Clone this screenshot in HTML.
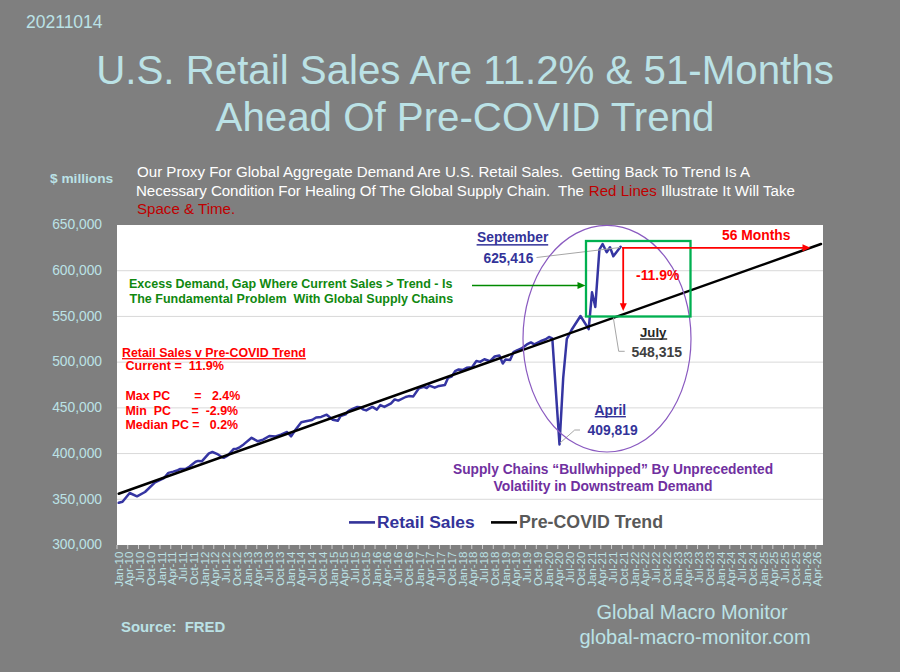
<!DOCTYPE html>
<html><head><meta charset="utf-8"><style>
html,body{margin:0;padding:0;background:#7F7F7F;}
body{width:900px;height:672px;overflow:hidden;position:relative;}
svg{position:absolute;left:0;top:0;}
text{font-family:"Liberation Sans",sans-serif;}
</style></head><body>
<svg width="900" height="672" viewBox="0 0 900 672">
<rect x="0" y="0" width="900" height="672" fill="#7F7F7F"/>

<text id="date" x="26" y="27.8" font-size="17.5" fill="#BBE2E6">20211014</text>
<text id="t1" x="465" y="83.6" font-size="40.25" fill="#BBE2E6" text-anchor="middle">U.S. Retail Sales Are 11.2% &amp; 51-Months</text>
<text id="t2" x="465" y="130.7" font-size="40.25" fill="#BBE2E6" text-anchor="middle">Ahead Of Pre-COVID Trend</text>
<text id="ymil" x="50" y="183.3" font-size="13.7" font-weight="bold" fill="#BBE2E6">$ millions</text>
<text id="p1" x="137" y="177.3" font-size="15.1" fill="#FFFFFF">Our Proxy For Global Aggregate Demand Are U.S. Retail Sales. &#160;Getting Back To Trend Is A</text>
<text id="p2" x="136" y="195.6" font-size="15.1" fill="#FFFFFF" textLength="448" lengthAdjust="spacing" xml:space="preserve">Necessary Condition For Healing Of The Global Supply Chain.  The</text>
<text id="p2b" x="588.8" y="195.6" font-size="15.1" fill="#C00000">Red Lines</text>
<text id="p2c" x="661" y="195.6" font-size="15.1" fill="#FFFFFF">Illustrate It Will Take</text>
<text id="p3" x="137" y="213.8" font-size="15.1" fill="#C00000">Space &amp; Time.</text>
<rect x="117.0" y="225.0" width="706.0" height="320.0" fill="#FFFFFF"/>
<line x1="117.0" y1="270.71" x2="823.0" y2="270.71" stroke="#D9D9D9" stroke-width="1"/>
<line x1="117.0" y1="316.43" x2="823.0" y2="316.43" stroke="#D9D9D9" stroke-width="1"/>
<line x1="117.0" y1="362.14" x2="823.0" y2="362.14" stroke="#D9D9D9" stroke-width="1"/>
<line x1="117.0" y1="407.86" x2="823.0" y2="407.86" stroke="#D9D9D9" stroke-width="1"/>
<line x1="117.0" y1="453.57" x2="823.0" y2="453.57" stroke="#D9D9D9" stroke-width="1"/>
<line x1="117.0" y1="499.29" x2="823.0" y2="499.29" stroke="#D9D9D9" stroke-width="1"/>
<text x="102" y="229.3" font-size="13.8" fill="#BBE2E6" text-anchor="end">650,000</text>
<text x="102" y="275.0" font-size="13.8" fill="#BBE2E6" text-anchor="end">600,000</text>
<text x="102" y="320.7" font-size="13.8" fill="#BBE2E6" text-anchor="end">550,000</text>
<text x="102" y="366.4" font-size="13.8" fill="#BBE2E6" text-anchor="end">500,000</text>
<text x="102" y="412.2" font-size="13.8" fill="#BBE2E6" text-anchor="end">450,000</text>
<text x="102" y="457.9" font-size="13.8" fill="#BBE2E6" text-anchor="end">400,000</text>
<text x="102" y="503.6" font-size="13.8" fill="#BBE2E6" text-anchor="end">350,000</text>
<text x="102" y="549.3" font-size="13.8" fill="#BBE2E6" text-anchor="end">300,000</text>
<line x1="117.00" y1="545.0" x2="117.00" y2="549.0" stroke="#D9D9D9" stroke-width="0.9"/>
<text font-size="11.5" fill="#BBE2E6" text-anchor="end" transform="translate(122.50,551.6) rotate(-90)">Jan-10</text>
<line x1="127.75" y1="545.0" x2="127.75" y2="549.0" stroke="#D9D9D9" stroke-width="0.9"/>
<text font-size="11.5" fill="#BBE2E6" text-anchor="end" transform="translate(133.25,551.6) rotate(-90)">Apr-10</text>
<line x1="138.50" y1="545.0" x2="138.50" y2="549.0" stroke="#D9D9D9" stroke-width="0.9"/>
<text font-size="11.5" fill="#BBE2E6" text-anchor="end" transform="translate(144.00,551.6) rotate(-90)">Jul-10</text>
<line x1="149.25" y1="545.0" x2="149.25" y2="549.0" stroke="#D9D9D9" stroke-width="0.9"/>
<text font-size="11.5" fill="#BBE2E6" text-anchor="end" transform="translate(154.75,551.6) rotate(-90)">Oct-10</text>
<line x1="160.01" y1="545.0" x2="160.01" y2="549.0" stroke="#D9D9D9" stroke-width="0.9"/>
<text font-size="11.5" fill="#BBE2E6" text-anchor="end" transform="translate(165.51,551.6) rotate(-90)">Jan-11</text>
<line x1="170.76" y1="545.0" x2="170.76" y2="549.0" stroke="#D9D9D9" stroke-width="0.9"/>
<text font-size="11.5" fill="#BBE2E6" text-anchor="end" transform="translate(176.26,551.6) rotate(-90)">Apr-11</text>
<line x1="181.51" y1="545.0" x2="181.51" y2="549.0" stroke="#D9D9D9" stroke-width="0.9"/>
<text font-size="11.5" fill="#BBE2E6" text-anchor="end" transform="translate(187.01,551.6) rotate(-90)">Jul-11</text>
<line x1="192.26" y1="545.0" x2="192.26" y2="549.0" stroke="#D9D9D9" stroke-width="0.9"/>
<text font-size="11.5" fill="#BBE2E6" text-anchor="end" transform="translate(197.76,551.6) rotate(-90)">Oct-11</text>
<line x1="203.01" y1="545.0" x2="203.01" y2="549.0" stroke="#D9D9D9" stroke-width="0.9"/>
<text font-size="11.5" fill="#BBE2E6" text-anchor="end" transform="translate(208.51,551.6) rotate(-90)">Jan-12</text>
<line x1="213.76" y1="545.0" x2="213.76" y2="549.0" stroke="#D9D9D9" stroke-width="0.9"/>
<text font-size="11.5" fill="#BBE2E6" text-anchor="end" transform="translate(219.26,551.6) rotate(-90)">Apr-12</text>
<line x1="224.51" y1="545.0" x2="224.51" y2="549.0" stroke="#D9D9D9" stroke-width="0.9"/>
<text font-size="11.5" fill="#BBE2E6" text-anchor="end" transform="translate(230.01,551.6) rotate(-90)">Jul-12</text>
<line x1="235.26" y1="545.0" x2="235.26" y2="549.0" stroke="#D9D9D9" stroke-width="0.9"/>
<text font-size="11.5" fill="#BBE2E6" text-anchor="end" transform="translate(240.76,551.6) rotate(-90)">Oct-12</text>
<line x1="246.02" y1="545.0" x2="246.02" y2="549.0" stroke="#D9D9D9" stroke-width="0.9"/>
<text font-size="11.5" fill="#BBE2E6" text-anchor="end" transform="translate(251.52,551.6) rotate(-90)">Jan-13</text>
<line x1="256.77" y1="545.0" x2="256.77" y2="549.0" stroke="#D9D9D9" stroke-width="0.9"/>
<text font-size="11.5" fill="#BBE2E6" text-anchor="end" transform="translate(262.27,551.6) rotate(-90)">Apr-13</text>
<line x1="267.52" y1="545.0" x2="267.52" y2="549.0" stroke="#D9D9D9" stroke-width="0.9"/>
<text font-size="11.5" fill="#BBE2E6" text-anchor="end" transform="translate(273.02,551.6) rotate(-90)">Jul-13</text>
<line x1="278.27" y1="545.0" x2="278.27" y2="549.0" stroke="#D9D9D9" stroke-width="0.9"/>
<text font-size="11.5" fill="#BBE2E6" text-anchor="end" transform="translate(283.77,551.6) rotate(-90)">Oct-13</text>
<line x1="289.02" y1="545.0" x2="289.02" y2="549.0" stroke="#D9D9D9" stroke-width="0.9"/>
<text font-size="11.5" fill="#BBE2E6" text-anchor="end" transform="translate(294.52,551.6) rotate(-90)">Jan-14</text>
<line x1="299.77" y1="545.0" x2="299.77" y2="549.0" stroke="#D9D9D9" stroke-width="0.9"/>
<text font-size="11.5" fill="#BBE2E6" text-anchor="end" transform="translate(305.27,551.6) rotate(-90)">Apr-14</text>
<line x1="310.52" y1="545.0" x2="310.52" y2="549.0" stroke="#D9D9D9" stroke-width="0.9"/>
<text font-size="11.5" fill="#BBE2E6" text-anchor="end" transform="translate(316.02,551.6) rotate(-90)">Jul-14</text>
<line x1="321.27" y1="545.0" x2="321.27" y2="549.0" stroke="#D9D9D9" stroke-width="0.9"/>
<text font-size="11.5" fill="#BBE2E6" text-anchor="end" transform="translate(326.77,551.6) rotate(-90)">Oct-14</text>
<line x1="332.03" y1="545.0" x2="332.03" y2="549.0" stroke="#D9D9D9" stroke-width="0.9"/>
<text font-size="11.5" fill="#BBE2E6" text-anchor="end" transform="translate(337.53,551.6) rotate(-90)">Jan-15</text>
<line x1="342.78" y1="545.0" x2="342.78" y2="549.0" stroke="#D9D9D9" stroke-width="0.9"/>
<text font-size="11.5" fill="#BBE2E6" text-anchor="end" transform="translate(348.28,551.6) rotate(-90)">Apr-15</text>
<line x1="353.53" y1="545.0" x2="353.53" y2="549.0" stroke="#D9D9D9" stroke-width="0.9"/>
<text font-size="11.5" fill="#BBE2E6" text-anchor="end" transform="translate(359.03,551.6) rotate(-90)">Jul-15</text>
<line x1="364.28" y1="545.0" x2="364.28" y2="549.0" stroke="#D9D9D9" stroke-width="0.9"/>
<text font-size="11.5" fill="#BBE2E6" text-anchor="end" transform="translate(369.78,551.6) rotate(-90)">Oct-15</text>
<line x1="375.03" y1="545.0" x2="375.03" y2="549.0" stroke="#D9D9D9" stroke-width="0.9"/>
<text font-size="11.5" fill="#BBE2E6" text-anchor="end" transform="translate(380.53,551.6) rotate(-90)">Jan-16</text>
<line x1="385.78" y1="545.0" x2="385.78" y2="549.0" stroke="#D9D9D9" stroke-width="0.9"/>
<text font-size="11.5" fill="#BBE2E6" text-anchor="end" transform="translate(391.28,551.6) rotate(-90)">Apr-16</text>
<line x1="396.53" y1="545.0" x2="396.53" y2="549.0" stroke="#D9D9D9" stroke-width="0.9"/>
<text font-size="11.5" fill="#BBE2E6" text-anchor="end" transform="translate(402.03,551.6) rotate(-90)">Jul-16</text>
<line x1="407.28" y1="545.0" x2="407.28" y2="549.0" stroke="#D9D9D9" stroke-width="0.9"/>
<text font-size="11.5" fill="#BBE2E6" text-anchor="end" transform="translate(412.78,551.6) rotate(-90)">Oct-16</text>
<line x1="418.04" y1="545.0" x2="418.04" y2="549.0" stroke="#D9D9D9" stroke-width="0.9"/>
<text font-size="11.5" fill="#BBE2E6" text-anchor="end" transform="translate(423.54,551.6) rotate(-90)">Jan-17</text>
<line x1="428.79" y1="545.0" x2="428.79" y2="549.0" stroke="#D9D9D9" stroke-width="0.9"/>
<text font-size="11.5" fill="#BBE2E6" text-anchor="end" transform="translate(434.29,551.6) rotate(-90)">Apr-17</text>
<line x1="439.54" y1="545.0" x2="439.54" y2="549.0" stroke="#D9D9D9" stroke-width="0.9"/>
<text font-size="11.5" fill="#BBE2E6" text-anchor="end" transform="translate(445.04,551.6) rotate(-90)">Jul-17</text>
<line x1="450.29" y1="545.0" x2="450.29" y2="549.0" stroke="#D9D9D9" stroke-width="0.9"/>
<text font-size="11.5" fill="#BBE2E6" text-anchor="end" transform="translate(455.79,551.6) rotate(-90)">Oct-17</text>
<line x1="461.04" y1="545.0" x2="461.04" y2="549.0" stroke="#D9D9D9" stroke-width="0.9"/>
<text font-size="11.5" fill="#BBE2E6" text-anchor="end" transform="translate(466.54,551.6) rotate(-90)">Jan-18</text>
<line x1="471.79" y1="545.0" x2="471.79" y2="549.0" stroke="#D9D9D9" stroke-width="0.9"/>
<text font-size="11.5" fill="#BBE2E6" text-anchor="end" transform="translate(477.29,551.6) rotate(-90)">Apr-18</text>
<line x1="482.54" y1="545.0" x2="482.54" y2="549.0" stroke="#D9D9D9" stroke-width="0.9"/>
<text font-size="11.5" fill="#BBE2E6" text-anchor="end" transform="translate(488.04,551.6) rotate(-90)">Jul-18</text>
<line x1="493.29" y1="545.0" x2="493.29" y2="549.0" stroke="#D9D9D9" stroke-width="0.9"/>
<text font-size="11.5" fill="#BBE2E6" text-anchor="end" transform="translate(498.79,551.6) rotate(-90)">Oct-18</text>
<line x1="504.05" y1="545.0" x2="504.05" y2="549.0" stroke="#D9D9D9" stroke-width="0.9"/>
<text font-size="11.5" fill="#BBE2E6" text-anchor="end" transform="translate(509.55,551.6) rotate(-90)">Jan-19</text>
<line x1="514.80" y1="545.0" x2="514.80" y2="549.0" stroke="#D9D9D9" stroke-width="0.9"/>
<text font-size="11.5" fill="#BBE2E6" text-anchor="end" transform="translate(520.30,551.6) rotate(-90)">Apr-19</text>
<line x1="525.55" y1="545.0" x2="525.55" y2="549.0" stroke="#D9D9D9" stroke-width="0.9"/>
<text font-size="11.5" fill="#BBE2E6" text-anchor="end" transform="translate(531.05,551.6) rotate(-90)">Jul-19</text>
<line x1="536.30" y1="545.0" x2="536.30" y2="549.0" stroke="#D9D9D9" stroke-width="0.9"/>
<text font-size="11.5" fill="#BBE2E6" text-anchor="end" transform="translate(541.80,551.6) rotate(-90)">Oct-19</text>
<line x1="547.05" y1="545.0" x2="547.05" y2="549.0" stroke="#D9D9D9" stroke-width="0.9"/>
<text font-size="11.5" fill="#BBE2E6" text-anchor="end" transform="translate(552.55,551.6) rotate(-90)">Jan-20</text>
<line x1="557.80" y1="545.0" x2="557.80" y2="549.0" stroke="#D9D9D9" stroke-width="0.9"/>
<text font-size="11.5" fill="#BBE2E6" text-anchor="end" transform="translate(563.30,551.6) rotate(-90)">Apr-20</text>
<line x1="568.55" y1="545.0" x2="568.55" y2="549.0" stroke="#D9D9D9" stroke-width="0.9"/>
<text font-size="11.5" fill="#BBE2E6" text-anchor="end" transform="translate(574.05,551.6) rotate(-90)">Jul-20</text>
<line x1="579.30" y1="545.0" x2="579.30" y2="549.0" stroke="#D9D9D9" stroke-width="0.9"/>
<text font-size="11.5" fill="#BBE2E6" text-anchor="end" transform="translate(584.80,551.6) rotate(-90)">Oct-20</text>
<line x1="590.06" y1="545.0" x2="590.06" y2="549.0" stroke="#D9D9D9" stroke-width="0.9"/>
<text font-size="11.5" fill="#BBE2E6" text-anchor="end" transform="translate(595.56,551.6) rotate(-90)">Jan-21</text>
<line x1="600.81" y1="545.0" x2="600.81" y2="549.0" stroke="#D9D9D9" stroke-width="0.9"/>
<text font-size="11.5" fill="#BBE2E6" text-anchor="end" transform="translate(606.31,551.6) rotate(-90)">Apr-21</text>
<line x1="611.56" y1="545.0" x2="611.56" y2="549.0" stroke="#D9D9D9" stroke-width="0.9"/>
<text font-size="11.5" fill="#BBE2E6" text-anchor="end" transform="translate(617.06,551.6) rotate(-90)">Jul-21</text>
<line x1="622.31" y1="545.0" x2="622.31" y2="549.0" stroke="#D9D9D9" stroke-width="0.9"/>
<text font-size="11.5" fill="#BBE2E6" text-anchor="end" transform="translate(627.81,551.6) rotate(-90)">Oct-21</text>
<line x1="633.06" y1="545.0" x2="633.06" y2="549.0" stroke="#D9D9D9" stroke-width="0.9"/>
<text font-size="11.5" fill="#BBE2E6" text-anchor="end" transform="translate(638.56,551.6) rotate(-90)">Jan-22</text>
<line x1="643.81" y1="545.0" x2="643.81" y2="549.0" stroke="#D9D9D9" stroke-width="0.9"/>
<text font-size="11.5" fill="#BBE2E6" text-anchor="end" transform="translate(649.31,551.6) rotate(-90)">Apr-22</text>
<line x1="654.56" y1="545.0" x2="654.56" y2="549.0" stroke="#D9D9D9" stroke-width="0.9"/>
<text font-size="11.5" fill="#BBE2E6" text-anchor="end" transform="translate(660.06,551.6) rotate(-90)">Jul-22</text>
<line x1="665.31" y1="545.0" x2="665.31" y2="549.0" stroke="#D9D9D9" stroke-width="0.9"/>
<text font-size="11.5" fill="#BBE2E6" text-anchor="end" transform="translate(670.81,551.6) rotate(-90)">Oct-22</text>
<line x1="676.07" y1="545.0" x2="676.07" y2="549.0" stroke="#D9D9D9" stroke-width="0.9"/>
<text font-size="11.5" fill="#BBE2E6" text-anchor="end" transform="translate(681.57,551.6) rotate(-90)">Jan-23</text>
<line x1="686.82" y1="545.0" x2="686.82" y2="549.0" stroke="#D9D9D9" stroke-width="0.9"/>
<text font-size="11.5" fill="#BBE2E6" text-anchor="end" transform="translate(692.32,551.6) rotate(-90)">Apr-23</text>
<line x1="697.57" y1="545.0" x2="697.57" y2="549.0" stroke="#D9D9D9" stroke-width="0.9"/>
<text font-size="11.5" fill="#BBE2E6" text-anchor="end" transform="translate(703.07,551.6) rotate(-90)">Jul-23</text>
<line x1="708.32" y1="545.0" x2="708.32" y2="549.0" stroke="#D9D9D9" stroke-width="0.9"/>
<text font-size="11.5" fill="#BBE2E6" text-anchor="end" transform="translate(713.82,551.6) rotate(-90)">Oct-23</text>
<line x1="719.07" y1="545.0" x2="719.07" y2="549.0" stroke="#D9D9D9" stroke-width="0.9"/>
<text font-size="11.5" fill="#BBE2E6" text-anchor="end" transform="translate(724.57,551.6) rotate(-90)">Jan-24</text>
<line x1="729.82" y1="545.0" x2="729.82" y2="549.0" stroke="#D9D9D9" stroke-width="0.9"/>
<text font-size="11.5" fill="#BBE2E6" text-anchor="end" transform="translate(735.32,551.6) rotate(-90)">Apr-24</text>
<line x1="740.57" y1="545.0" x2="740.57" y2="549.0" stroke="#D9D9D9" stroke-width="0.9"/>
<text font-size="11.5" fill="#BBE2E6" text-anchor="end" transform="translate(746.07,551.6) rotate(-90)">Jul-24</text>
<line x1="751.32" y1="545.0" x2="751.32" y2="549.0" stroke="#D9D9D9" stroke-width="0.9"/>
<text font-size="11.5" fill="#BBE2E6" text-anchor="end" transform="translate(756.82,551.6) rotate(-90)">Oct-24</text>
<line x1="762.08" y1="545.0" x2="762.08" y2="549.0" stroke="#D9D9D9" stroke-width="0.9"/>
<text font-size="11.5" fill="#BBE2E6" text-anchor="end" transform="translate(767.58,551.6) rotate(-90)">Jan-25</text>
<line x1="772.83" y1="545.0" x2="772.83" y2="549.0" stroke="#D9D9D9" stroke-width="0.9"/>
<text font-size="11.5" fill="#BBE2E6" text-anchor="end" transform="translate(778.33,551.6) rotate(-90)">Apr-25</text>
<line x1="783.58" y1="545.0" x2="783.58" y2="549.0" stroke="#D9D9D9" stroke-width="0.9"/>
<text font-size="11.5" fill="#BBE2E6" text-anchor="end" transform="translate(789.08,551.6) rotate(-90)">Jul-25</text>
<line x1="794.33" y1="545.0" x2="794.33" y2="549.0" stroke="#D9D9D9" stroke-width="0.9"/>
<text font-size="11.5" fill="#BBE2E6" text-anchor="end" transform="translate(799.83,551.6) rotate(-90)">Oct-25</text>
<line x1="805.08" y1="545.0" x2="805.08" y2="549.0" stroke="#D9D9D9" stroke-width="0.9"/>
<text font-size="11.5" fill="#BBE2E6" text-anchor="end" transform="translate(810.58,551.6) rotate(-90)">Jan-26</text>
<line x1="815.83" y1="545.0" x2="815.83" y2="549.0" stroke="#D9D9D9" stroke-width="0.9"/>
<text font-size="11.5" fill="#BBE2E6" text-anchor="end" transform="translate(821.33,551.6) rotate(-90)">Apr-26</text>
<polyline points="118.7,502.8 122.5,501.7 129.7,493.0 137.0,496.3 145.0,492.0 155.0,482.3 164.0,478.0 168.4,472.9 173.3,471.6 177.8,470.2 180.4,468.9 185.8,468.9 189.3,466.7 195.6,461.8 198.2,460.9 201.8,461.3 208.9,453.3 212.4,452.0 216.9,453.8 222.2,457.3 224.0,457.8 227.6,455.6 233.8,448.9 236.4,448.9 240.0,447.1 243.6,444.4 251.6,437.8 257.8,441.3 263.1,439.6 269.3,436.0 275.6,436.4 280.9,434.7 287.1,432.0 291.1,436.4 295.1,430.2 301.3,422.2 305.8,421.3 312.0,420.0 316.1,417.5 321.1,416.9 326.7,414.7 332.8,419.7 337.8,420.8 340.6,416.1 345.6,414.4 348.3,411.1 352.0,409.1 357.3,406.9 360.0,407.3 363.6,409.6 366.2,410.4 372.4,406.9 376.9,409.6 380.4,405.1 384.4,406.9 391.1,403.3 394.7,399.4 398.3,400.6 405.6,397.0 408.9,396.1 413.3,396.4 418.9,388.3 423.9,386.9 426.7,388.0 429.4,385.6 434.7,387.7 439.1,385.9 444.9,385.0 448.0,377.9 451.6,376.6 455.1,371.2 458.7,369.4 463.1,369.9 466.7,367.7 472.0,367.2 476.4,361.0 480.0,361.9 484.4,359.2 490.0,361.2 494.7,356.5 499.4,355.5 502.8,363.5 505.5,359.5 510.1,359.9 513.5,352.2 517.5,350.1 521.5,348.5 526.9,344.4 530.9,342.4 534.3,344.4 538.9,342.1 541.7,340.7 545.7,339.3 549.0,337.0 552.3,338.3 559.5,444.5 563.2,378.0 566.8,339.0 571.5,330.0 580.5,316.0 588.7,329.1 592.0,292.3 595.3,307.0 599.4,249.7 602.6,244.0 606.7,252.2 610.0,247.3 613.3,256.3 620.6,246.8" fill="none" stroke="#3535A2" stroke-width="2.5" stroke-linejoin="round" stroke-linecap="round"/>
<line x1="118.7" y1="493.7" x2="821" y2="244" stroke="#000000" stroke-width="2.5" stroke-linecap="round"/>
<polyline points="536.5,257.5 620,247.5" fill="none" stroke="#A6A6A6" stroke-width="1"/>
<polyline points="613.3,317.7 618.7,351.3 624.7,351.3" fill="none" stroke="#A6A6A6" stroke-width="1"/>
<polyline points="560,443 574.7,430 580,430" fill="none" stroke="#A6A6A6" stroke-width="1"/>
<ellipse cx="607" cy="338.7" rx="84" ry="113.3" fill="none" stroke="#8A5AC0" stroke-width="1.2"/>
<rect x="586" y="241" width="104.5" height="75.5" fill="none" stroke="#00B050" stroke-width="2.3"/>
<line x1="472" y1="285.5" x2="579" y2="285.5" stroke="#008A00" stroke-width="1.6"/>
<polygon points="577.5,282 585.5,285.5 577.5,289" fill="#008A00"/>
<line x1="622" y1="247.8" x2="804" y2="247.8" stroke="#FF0000" stroke-width="1.8"/>
<polygon points="802.5,244.3 810.5,247.8 802.5,251.5" fill="#FF0000"/>
<line x1="623.2" y1="247" x2="623.2" y2="304" stroke="#FF0000" stroke-width="1.8"/>
<polygon points="619.8,303.2 623.2,311 626.8,303.2" fill="#FF0000"/>
<text x="477" y="241.9" font-size="13.8" font-weight="bold" fill="#333399">September</text><rect x="476.6" y="244.1" width="71.6" height="1.5" fill="#333399"/>
<text x="483.5" y="262.8" font-size="13.8" font-weight="bold" fill="#333399">625,416</text>
<text x="722" y="239.7" font-size="13.85" font-weight="bold" fill="#FF0000">56 Months</text>
<text x="636" y="280" font-size="13.9" font-weight="bold" fill="#FF0000">-11.9%</text>
<text x="640" y="337" font-size="13.2" font-weight="bold" fill="#262626">July</text><rect x="640" y="338.3" width="27.2" height="1.4" fill="#262626"/>
<text x="631.5" y="356.6" font-size="14" font-weight="bold" fill="#404040">548,315</text>
<text x="594.5" y="414.7" font-size="13.9" font-weight="bold" fill="#333399">April</text><rect x="594.7" y="416" width="31.2" height="1.4" fill="#333399"/>
<text x="587.5" y="434.7" font-size="13.9" font-weight="bold" fill="#333399">409,819</text>
<text id="g1" x="129" y="288.2" font-size="12.5" font-weight="bold" fill="#108810">Excess Demand, Gap Where Current Sales &gt; Trend - Is</text>
<text id="g2" x="129.6" y="302.9" font-size="12.5" font-weight="bold" fill="#108810">The Fundamental Problem &#160;With Global Supply Chains</text>
<text id="r1" x="122" y="357.1" font-size="12.4" font-weight="bold" fill="#FF0000" text-decoration="underline">Retail Sales v Pre-COVID Trend</text>
<text x="125.5" y="370" font-size="12.6" font-weight="bold" fill="#FF0000" xml:space="preserve">Current =  11.9%</text>
<text x="125.5" y="400" font-size="12.4" font-weight="bold" fill="#FF0000" xml:space="preserve">Max PC       =   2.4%</text>
<text x="125.5" y="414.9" font-size="12.4" font-weight="bold" fill="#FF0000" xml:space="preserve">Min  PC      =  -2.9%</text>
<text x="125.5" y="429.3" font-size="12.4" font-weight="bold" fill="#FF0000" xml:space="preserve">Median PC =   0.2%</text>
<text id="s1" x="453" y="474" font-size="13.75" font-weight="bold" fill="#7030A0">Supply Chains “Bullwhipped” By Unprecedented</text>
<text id="s2" x="493.5" y="491" font-size="13.9" font-weight="bold" fill="#7030A0">Volatility in Downstream Demand</text>
<line x1="349" y1="522.4" x2="375" y2="522.4" stroke="#333399" stroke-width="2.6"/>
<text id="l1" x="377" y="527.6" font-size="17.4" font-weight="bold" fill="#333399">Retail Sales</text>
<line x1="491" y1="522.4" x2="517" y2="522.4" stroke="#000" stroke-width="2.6"/>
<text id="l2" x="519" y="528" font-size="17.75" font-weight="bold" fill="#595959">Pre-COVID Trend</text>
<text id="src" x="121" y="631.7" font-size="14.9" font-weight="bold" fill="#BBE2E6" xml:space="preserve">Source:  FRED</text>
<text id="gm1" x="692" y="619.4" font-size="20" fill="#BBE2E6" text-anchor="middle">Global Macro Monitor</text>
<text id="gm2" x="695" y="643.6" font-size="20" fill="#BBE2E6" text-anchor="middle">global-macro-monitor.com</text>
</svg></body></html>
